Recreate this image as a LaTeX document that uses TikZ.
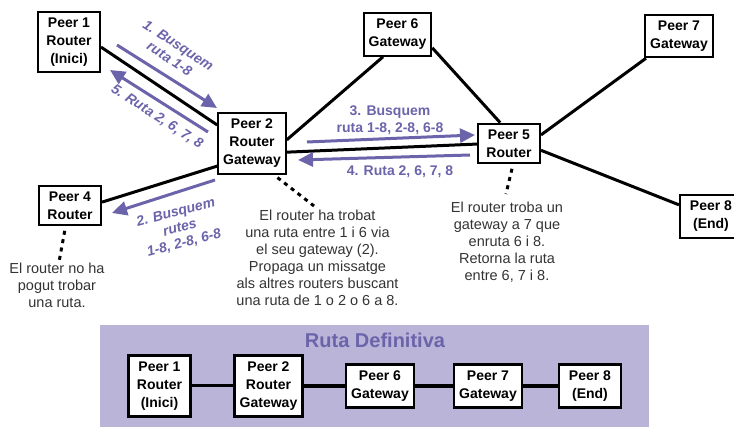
\documentclass[tikz,border=0pt]{standalone}
\usepackage{fontspec}
\setmainfont{Liberation Sans}
\usetikzlibrary{arrows.meta}
\definecolor{ruta}{HTML}{6B64AA}
\definecolor{panell}{HTML}{B9B4D8}
\definecolor{grisnota}{HTML}{333333}

\tikzset{
  peer/.style={draw, line width=2pt, fill=white, align=center,
    font=\bfseries\fontsize{14}{18}\selectfont,
    inner xsep=5pt, inner ysep=6pt, minimum width=62pt},
  link/.style={line width=3pt},
  msg/.style={ruta, line width=3pt, -{Triangle[length=15pt,width=14pt]}},
  msgtxt/.style={ruta, align=center, font=\bfseries\itshape\fontsize{14}{16}\selectfont},
  nota/.style={grisnota, align=center, font=\fontsize{14.5}{17}\selectfont},
  punts/.style={line width=3pt, dash pattern=on 4pt off 4.5pt, dash phase=4pt},
}

\begin{document}
\begin{tikzpicture}[x=1pt,y=-1pt]
\useasboundingbox (0,0) rectangle (734,427);

    % xarxa de peers
    \node[peer] (p1) at (69,42) {Peer 1\\Router\\(Inici)};
    \node[peer] (p2) at (252,143.5) {Peer 2\\Router\\Gateway};
    \node[peer] (p4) at (70,205.5) {Peer 4\\Router};
    \node[peer] (p6) at (397.5,34.5) {Peer 6\\Gateway};
    \node[peer] (p7) at (679,36) {Peer 7\\Gateway};
    \node[peer] (p5) at (509,143.5) {Peer 5\\Router};
    \node[peer] (p8) at (711,216.5) {Peer 8\\(End)};

    \draw[link] (p1.-9) -- (p2.152);
    \draw[link] (p2.213) -- (p4.6);
    \draw[link] (p2.6) -- (p6.237);
    \draw[link] (p2.-14) -- (p5.181);
    \draw[link] (p6.-21) -- (p5.113);
    \draw[link] (p5.15) -- (p7.214);
    \draw[link] (p5.-12) -- (p8.160);

    % missatges
    \coordinate (m1a) at (117,45);
    \coordinate (m1b) at (217,108);
    \coordinate (m5a) at (208,132);
    \coordinate (m5b) at (110,70);
    \coordinate (m2a) at (215,180);
    \coordinate (m2b) at (112,213);
    \coordinate (m3a) at (307,142);
    \coordinate (m3b) at (475,135);
    \coordinate (m4a) at (470,155);
    \coordinate (m4b) at (298,160);

    \draw[msg] (m1a) -- (m1b);
    \draw[msg] (m5a) -- (m5b);
    \draw[msg] (m2a) -- (m2b);
    \draw[msg] (m3a) -- (m3b);
    \draw[msg] (m4a) -- (m4b);

    \node[msgtxt, rotate=-33] (t1) at (174,52) {1. Busquem\\ruta 1-8};
    \node[msgtxt, rotate=-33] (t5) at (157,117) {5. Ruta 2, 6, 7, 8};
    \node[msgtxt, rotate=15] (t2) at (180,228) {2. Busquem\\rutes\\1-8, 2-8, 6-8};
    \node[msgtxt, font=\bfseries\fontsize{14}{17}\selectfont] (t3) at (390,120) {3. Busquem\\ruta 1-8, 2-8, 6-8};
    \node[msgtxt, font=\bfseries\fontsize{14}{17}\selectfont] (t4) at (400,172) {4. Ruta 2, 6, 7, 8};

    % notes
    \coordinate (d4) at (59,262);
    \coordinate (d2) at (314,206);
    \coordinate (d5) at (506,194);
    \draw[punts] (p4.-102) -- (d4);
    \draw[punts] (p2.-55) -- (d2);
    \draw[punts] (p5.-79) -- (d5);

    \node[nota] (n4) at (57,285) {El router no ha\\pogut trobar\\una ruta.};
    \node[nota] (n2) at (317.5,257.5) {El router ha trobat\\una ruta entre 1 i 6 via\\el seu gateway (2).\\Propaga un missatge\\als altres routers buscant\\una ruta de 1 o 2 o 6 a 8.};
    \node[nota] (n5) at (507,242.5) {El router troba un\\gateway a 7 que\\enruta 6 i 8.\\Retorna la ruta\\entre 6, 7 i 8.};

    % ruta definitiva
    \fill[panell] (100,325) rectangle (649,427);
    \node[ruta, font=\bfseries\fontsize{20}{22}\selectfont] (titol) at (375,340) {Ruta Definitiva};
    \node[peer, line width=2.5pt] (b1) at (159.5,386) {Peer 1\\Router\\(Inici)};
    \node[peer, line width=2.5pt] (b2) at (268.5,386) {Peer 2\\Router\\Gateway};
    \node[peer, line width=2.5pt] (b6) at (380,386) {Peer 6\\Gateway};
    \node[peer, line width=2.5pt] (b7) at (488,386) {Peer 7\\Gateway};
    \node[peer, line width=2.5pt] (b8) at (590,386) {Peer 8\\(End)};
    \draw[link] (b1.east) -- (b2.west);
    \foreach \a/\b in {b2/b6,b6/b7,b7/b8}
    \draw[link, line width=4pt] (\a.east) -- (\b.west);

  \end{tikzpicture}
\end{document}
